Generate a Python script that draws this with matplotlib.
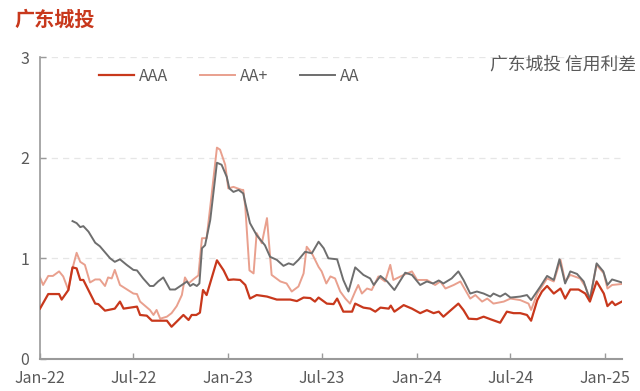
import matplotlib
matplotlib.use("Agg")
import matplotlib.pyplot as plt
import matplotlib.dates as mdates
import pandas as pd

plt.rcParams['font.family'] = ['Noto Sans CJK SC', 'DejaVu Sans']

# 数据 (周度信用利差, %)
aaa_dates = [
    "2022-01-01", "2022-01-17", "2022-02-07", "2022-02-12", "2022-02-25", "2022-03-05",
    "2022-03-13", "2022-03-20", "2022-03-26", "2022-04-18", "2022-04-24", "2022-05-07",
    "2022-05-26", "2022-06-05", "2022-06-12", "2022-07-08", "2022-07-14", "2022-07-27",
    "2022-08-06", "2022-09-04", "2022-09-13", "2022-10-06", "2022-10-16", "2022-10-22",
    "2022-10-31", "2022-11-07", "2022-11-13", "2022-11-20", "2022-12-10", "2022-12-23",
    "2023-01-01", "2023-01-11", "2023-01-24", "2023-02-03", "2023-02-12", "2023-02-25",
    "2023-03-17", "2023-04-05", "2023-05-01", "2023-05-14", "2023-05-27", "2023-06-09",
    "2023-06-18", "2023-06-25", "2023-07-11", "2023-07-24", "2023-07-31", "2023-08-12",
    "2023-08-29", "2023-09-04", "2023-09-20", "2023-10-03", "2023-10-13", "2023-10-23",
    "2023-11-08", "2023-11-12", "2023-11-19", "2023-12-07", "2023-12-23", "2024-01-08",
    "2024-01-21", "2024-02-03", "2024-02-13", "2024-02-22", "2024-03-22", "2024-04-01",
    "2024-04-11", "2024-04-27", "2024-05-10", "2024-05-23", "2024-06-11", "2024-06-24",
    "2024-07-07", "2024-07-20", "2024-08-02", "2024-08-10", "2024-08-22", "2024-08-31",
    "2024-09-10", "2024-09-23", "2024-10-06", "2024-10-15", "2024-10-25", "2024-11-10",
    "2024-11-23", "2024-12-02", "2024-12-15", "2024-12-29", "2025-01-05", "2025-01-14",
    "2025-01-20", "2025-02-02",
]
aaa_vals = [
    0.50, 0.645, 0.645, 0.59, 0.685, 0.91,
    0.90, 0.785, 0.785, 0.55, 0.545, 0.48,
    0.50, 0.57, 0.50, 0.52, 0.437, 0.43,
    0.38, 0.38, 0.32, 0.437, 0.387, 0.437,
    0.437, 0.46, 0.685, 0.635, 0.98, 0.88,
    0.785, 0.79, 0.785, 0.735, 0.60, 0.635,
    0.62, 0.59, 0.59, 0.575, 0.61, 0.605,
    0.57, 0.61, 0.55, 0.545, 0.60, 0.47,
    0.47, 0.55, 0.51, 0.50, 0.47, 0.51,
    0.50, 0.53, 0.47, 0.535, 0.50, 0.455,
    0.485, 0.455, 0.47, 0.42, 0.55, 0.485,
    0.40, 0.395, 0.42, 0.395, 0.36, 0.47,
    0.455, 0.455, 0.437, 0.38, 0.585, 0.67,
    0.725, 0.65, 0.70, 0.60, 0.69, 0.69,
    0.65, 0.57, 0.77, 0.65, 0.525, 0.57,
    0.535, 0.57,
]

aap_dates = [
    "2022-01-01", "2022-01-07", "2022-01-17", "2022-01-26", "2022-02-07", "2022-02-15",
    "2022-02-25", "2022-03-04", "2022-03-13", "2022-03-20", "2022-03-29", "2022-04-08",
    "2022-04-18", "2022-04-27", "2022-05-07", "2022-05-13", "2022-05-20", "2022-05-26",
    "2022-06-05", "2022-07-01", "2022-07-08", "2022-07-14", "2022-08-02", "2022-08-09",
    "2022-08-15", "2022-08-22", "2022-09-04", "2022-09-13", "2022-09-23", "2022-10-03",
    "2022-10-09", "2022-10-16", "2022-10-25", "2022-11-04", "2022-11-11", "2022-11-20",
    "2022-11-29", "2022-12-10", "2022-12-16", "2022-12-26", "2023-01-01", "2023-01-11",
    "2023-01-27", "2023-01-30", "2023-02-03", "2023-02-11", "2023-02-19", "2023-02-25",
    "2023-03-07", "2023-03-17", "2023-03-26", "2023-04-12", "2023-04-24", "2023-05-04",
    "2023-05-17", "2023-05-27", "2023-06-02", "2023-06-12", "2023-06-25", "2023-07-01",
    "2023-07-10", "2023-07-18", "2023-07-27", "2023-08-06", "2023-08-16", "2023-08-25",
    "2023-09-04", "2023-09-10", "2023-09-17", "2023-09-27", "2023-10-06", "2023-10-19",
    "2023-11-01", "2023-11-11", "2023-11-17", "2023-12-07", "2023-12-23", "2024-01-02",
    "2024-01-21", "2024-02-06", "2024-02-16", "2024-02-26", "2024-03-13", "2024-03-26",
    "2024-04-14", "2024-04-24", "2024-05-07", "2024-05-17", "2024-05-29", "2024-06-18",
    "2024-07-01", "2024-07-20", "2024-08-05", "2024-08-10", "2024-08-22", "2024-08-31",
    "2024-09-10", "2024-09-23", "2024-10-06", "2024-10-15", "2024-10-25", "2024-11-13",
    "2024-11-23", "2024-12-02", "2024-12-15", "2024-12-29", "2025-01-05", "2025-01-14",
    "2025-02-02",
]
aap_vals = [
    0.81, 0.735, 0.825, 0.825, 0.87, 0.82,
    0.685, 0.88, 1.055, 0.965, 0.935, 0.76,
    0.79, 0.79, 0.725, 0.81, 0.80, 0.885,
    0.735, 0.65, 0.645, 0.57, 0.487, 0.437,
    0.487, 0.40, 0.42, 0.455, 0.525, 0.635,
    0.81, 0.75, 0.79, 0.83, 1.20, 1.20,
    1.60, 2.10, 2.08, 1.93, 1.695, 1.71,
    1.68, 1.68, 1.51, 0.88, 0.85, 1.25,
    1.15, 1.40, 0.835, 0.77, 0.75, 0.67,
    0.72, 0.85, 1.115, 1.05, 0.915, 0.87,
    0.75, 0.82, 0.80, 0.67, 0.60, 0.55,
    0.67, 0.735, 0.65, 0.70, 0.685, 0.82,
    0.77, 0.935, 0.785, 0.835, 0.87, 0.785,
    0.785, 0.735, 0.77, 0.70, 0.735, 0.77,
    0.60, 0.635, 0.57, 0.60, 0.55, 0.57,
    0.60, 0.585, 0.55, 0.487, 0.65, 0.72,
    0.80, 0.77, 0.985, 0.77, 0.835, 0.80,
    0.72, 0.60, 0.935, 0.85, 0.70, 0.735,
    0.745,
]

aa_dates = [
    "2022-03-05", "2022-03-13", "2022-03-20", "2022-03-26", "2022-04-05", "2022-04-18",
    "2022-04-27", "2022-05-17", "2022-05-26", "2022-06-05", "2022-06-18", "2022-07-01",
    "2022-07-08", "2022-07-20", "2022-08-02", "2022-08-09", "2022-08-18", "2022-08-28",
    "2022-09-10", "2022-09-20", "2022-10-03", "2022-10-13", "2022-10-19", "2022-10-25",
    "2022-11-01", "2022-11-06", "2022-11-11", "2022-11-17", "2022-11-27", "2022-12-10",
    "2022-12-19", "2022-12-29", "2023-01-03", "2023-01-11", "2023-01-21", "2023-01-30",
    "2023-02-03", "2023-02-12", "2023-02-25", "2023-03-13", "2023-03-23", "2023-04-05",
    "2023-04-18", "2023-04-28", "2023-05-07", "2023-05-17", "2023-05-30", "2023-06-12",
    "2023-06-25", "2023-07-05", "2023-07-14", "2023-07-31", "2023-08-12", "2023-08-22",
    "2023-09-04", "2023-09-20", "2023-10-03", "2023-10-10", "2023-10-23", "2023-11-05",
    "2023-11-19", "2023-12-10", "2023-12-23", "2024-01-08", "2024-01-21", "2024-02-02",
    "2024-02-13", "2024-02-22", "2024-03-09", "2024-03-22", "2024-04-01", "2024-04-14",
    "2024-04-27", "2024-05-10", "2024-05-23", "2024-05-29", "2024-06-11", "2024-06-21",
    "2024-07-01", "2024-07-20", "2024-08-02", "2024-08-10", "2024-08-28", "2024-09-10",
    "2024-09-23", "2024-10-04", "2024-10-15", "2024-10-25", "2024-11-07", "2024-11-20",
    "2024-12-02", "2024-12-15", "2024-12-28", "2025-01-05", "2025-01-14", "2025-02-02",
]
aa_vals = [
    1.37, 1.35, 1.31, 1.32, 1.265, 1.155,
    1.12, 1.00, 0.965, 0.99, 0.935, 0.885,
    0.88, 0.80, 0.725, 0.725, 0.77, 0.81,
    0.69, 0.69, 0.735, 0.77, 0.725, 0.745,
    0.725, 0.75, 1.10, 1.13, 1.38, 1.95,
    1.93, 1.81, 1.695, 1.66, 1.68, 1.645,
    1.55, 1.35, 1.23, 1.13, 1.015, 0.985,
    0.925, 0.95, 0.935, 0.985, 1.065, 1.05,
    1.165, 1.10, 1.00, 0.99, 0.785, 0.67,
    0.91, 0.835, 0.80, 0.735, 0.825, 0.77,
    0.685, 0.857, 0.835, 0.735, 0.77, 0.75,
    0.78, 0.75, 0.80, 0.87, 0.785, 0.65,
    0.67, 0.65, 0.62, 0.65, 0.62, 0.65,
    0.61, 0.62, 0.635, 0.585, 0.72, 0.825,
    0.785, 0.99, 0.75, 0.87, 0.845, 0.77,
    0.585, 0.95, 0.87, 0.735, 0.79, 0.76,
]

c_aaa = '#C8381C'
c_aap = '#E9A08E'
c_aa = '#6E6E6E'
c_axis = '#9A9A9A'
c_text = '#5A5A5A'

fig = plt.figure(figsize=(6.4, 3.91), dpi=100)
ax = fig.add_axes([0.0625, 0.082, 0.91, 0.772])

ax.plot(pd.to_datetime(aaa_dates), aaa_vals, color=c_aaa, lw=1.6, label='AAA', zorder=3)
ax.plot(pd.to_datetime(aap_dates), aap_vals, color=c_aap, lw=1.4, label='AA+', zorder=2)
ax.plot(pd.to_datetime(aa_dates), aa_vals, color=c_aa, lw=1.4, label='AA', zorder=2)

ax.set_xlim(pd.Timestamp('2022-01-01'), pd.Timestamp('2025-02-03'))
ax.set_ylim(0, 3)
ax.set_yticks([0, 1, 2, 3])
ax.xaxis.set_major_locator(mdates.MonthLocator(bymonth=[1, 7]))
ax.xaxis.set_major_formatter(mdates.DateFormatter('%b-%y'))

for y in [1, 2, 3]:
    ax.axhline(y, color='#E6E6E6', lw=0.9, ls=(0, (5, 4)), zorder=0)

for s in ['top', 'right']:
    ax.spines[s].set_visible(False)
ax.spines['left'].set_color(c_axis)
ax.spines['bottom'].set_color(c_axis)
ax.spines['left'].set_linewidth(1.2)
ax.spines['bottom'].set_linewidth(1.5)
ax.tick_params(axis='both', direction='in', length=4, width=1, color=c_axis,
               labelcolor=c_text, labelsize=11.5)
ax.tick_params(axis='y', pad=8)
ax.tick_params(axis='x', pad=8)

ax.legend(loc='center', bbox_to_anchor=(0.325, 0.937), ncol=3, frameon=False,
          fontsize=11.5, handlelength=2.2, columnspacing=2.0, handletextpad=0.3,
          labelcolor=c_text)

fig.text(0.023, 0.951, '广东城投', color=c_aaa, fontsize=14.5, fontweight='bold',
         ha='left', va='center')
fig.text(0.994, 0.834, '广东城投 信用利差', color=c_text, fontsize=12.8,
         ha='right', va='center')

fig.savefig('out.png', dpi=100)
